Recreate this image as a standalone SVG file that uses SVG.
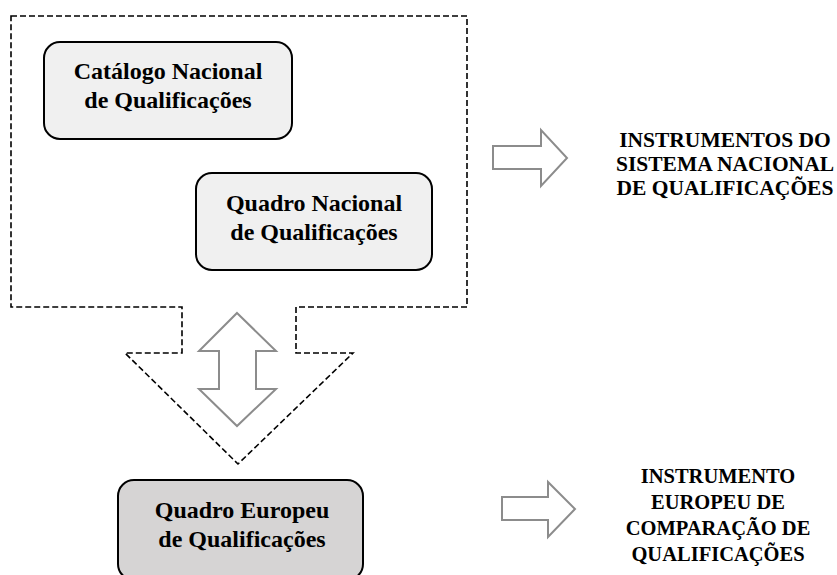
<svg xmlns="http://www.w3.org/2000/svg" width="837" height="575" viewBox="0 0 837 575">
<style>
.box{stroke:#000;stroke-width:2}
text{font-family:'Liberation Serif','DejaVu Serif',serif;font-weight:700;fill:#000;text-anchor:middle}
.bt{font-size:24px}
.r1{font-size:21.5px}
.r2{font-size:20.5px}
.dash{fill:none;stroke:#000;stroke-width:1.6;stroke-dasharray:6 3}
.arr{fill:#fff;stroke:#8c8c8c;stroke-width:2}
</style>
<rect width="837" height="575" fill="#fff"/>
<g id="connectors">
<path class="dash" d="M11,16 H467 V307 H296 V353 H353 L238,464 L125,353 H182 V307 H11 Z"/>
<path class="arr" d="M237,313 L276,351 H256 V389 H276 L237,426 L199,389 H219 V351 H199 Z"/>
<path class="arr" d="M493,146 H541 V130 L567,158 L541,186 V169 H493 Z"/>
<path class="arr" d="M502,497 H548 V482 L575,509 L548,537 V520 H502 Z"/>
</g>
<g id="catalogo">
<rect class="box" x="44" y="42" width="248" height="97" rx="16" fill="#f0f0f0"/>
<text class="bt" x="168" y="79">Catálogo Nacional</text>
<text class="bt" x="168" y="108">de Qualificações</text>
</g>
<g id="quadro-nacional">
<rect class="box" x="196" y="173" width="236" height="97" rx="16" fill="#f0f0f0"/>
<text class="bt" x="314" y="211">Quadro Nacional</text>
<text class="bt" x="314" y="240">de Qualificações</text>
</g>
<g id="quadro-europeu">
<rect class="box" x="118" y="480" width="245" height="100" rx="16" fill="#d6d4d4"/>
<text class="bt" x="242" y="518">Quadro Europeu</text>
<text class="bt" x="242" y="547">de Qualificações</text>
</g>
<g id="instrumentos-nacional">
<text class="r1" x="725" y="147">INSTRUMENTOS DO</text>
<text class="r1" x="725" y="171">SISTEMA NACIONAL</text>
<text class="r1" x="725" y="195">DE QUALIFICAÇÕES</text>
</g>
<g id="instrumento-europeu">
<text class="r2" x="718" y="483">INSTRUMENTO</text>
<text class="r2" x="718" y="509">EUROPEU DE</text>
<text class="r2" x="718" y="535">COMPARAÇÃO DE</text>
<text class="r2" x="718" y="561">QUALIFICAÇÕES</text>
</g>
</svg>
